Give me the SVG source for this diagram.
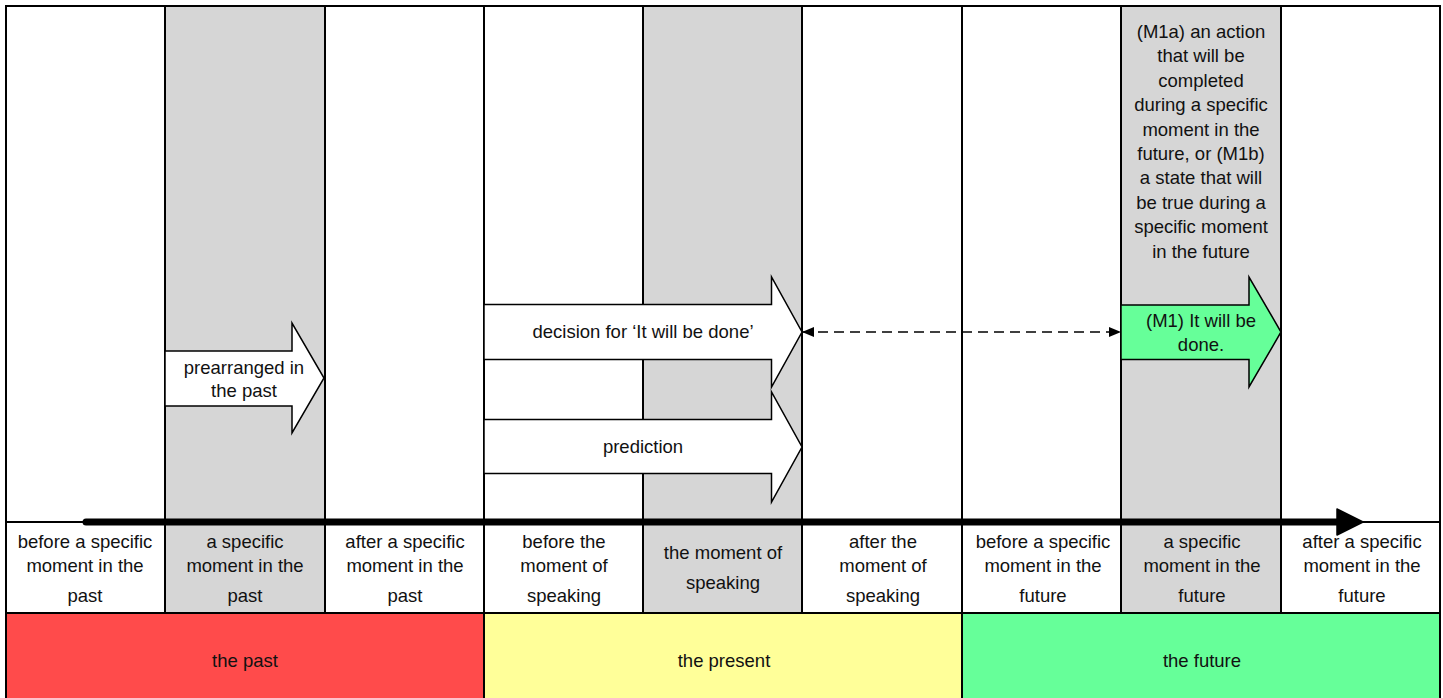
<svg xmlns="http://www.w3.org/2000/svg" width="1443" height="698" viewBox="0 0 1443 698">
  <style>
    .cell { stroke: none; }
    .white { fill: #ffffff; }
    .grey { fill: #d6d6d6; }
    .grid { stroke: #000000; stroke-width: 2; fill: none; }
    .block { stroke: #000000; stroke-width: 1.5; stroke-linejoin: miter; }
    .txt { font-family: "Liberation Sans", Arial, sans-serif; font-size: 18.5px; fill: #111111; text-anchor: middle; }
    .dash { stroke: #000000; stroke-width: 1.5; stroke-dasharray: 10 6; fill: none; }
  </style>
  <defs>
    <marker id="tri" viewBox="0 0 12 10" refX="12" refY="5" markerWidth="12" markerHeight="10" markerUnits="userSpaceOnUse" orient="auto-start-reverse">
      <path d="M0,0 L12,5 L0,10 Z" fill="#000000"/>
    </marker>
  </defs>

  <!-- background columns: upper area and sub-period label row -->
  <g id="columns">
    <rect class="cell white" x="6" y="6" width="1434" height="607"/>
    <rect class="cell grey" x="165" y="6" width="160" height="607"/>
    <rect class="cell grey" x="643" y="6" width="159" height="607"/>
    <rect class="cell grey" x="1121" y="6" width="160" height="607"/>
  </g>

  <!-- period bands -->
  <g id="periods">
    <rect x="6" y="613" width="478" height="85" fill="#ff4b4b"/>
    <rect x="484" y="613" width="478" height="85" fill="#ffff99"/>
    <rect x="962" y="613" width="478" height="85" fill="#66ff99"/>
  </g>

  <!-- grid lines -->
  <g id="grid" class="grid">
    <rect x="6" y="6" width="1434" height="700"/>
    <path d="M165,6 V613 M325,6 V613 M484,6 V698 M643,6 V613 M802,6 V613 M962,6 V698 M1121,6 V613 M1281,6 V613"/>
    <path d="M6,522 H1440 M6,613 H1440"/>
  </g>

  <!-- time axis -->
  <g id="timeline">
    <line x1="86" y1="522" x2="1340" y2="522" stroke="#000000" stroke-width="7" stroke-linecap="round"/>
    <path d="M1337,509 L1363,522 L1337,535 Z" fill="#000000" stroke="#000000" stroke-width="1.5" stroke-linejoin="round"/>
  </g>

  <!-- block arrows -->
  <g id="prearranged">
    <path class="block" fill="#ffffff" d="M165,351 H292 V323 L324,378 L292,433 V406 H165 Z"/>
    <text class="txt" x="244" y="374">prearranged in</text>
    <text class="txt" x="244" y="397">the past</text>
  </g>
  <g id="decision">
    <path class="block" fill="#ffffff" d="M484,304.5 H771.5 V277 L802,332 L771.5,387 V359.5 H484 Z"/>
    <text class="txt" x="643" y="338">decision for ‘It will be done’</text>
  </g>
  <g id="prediction">
    <path class="block" fill="#ffffff" d="M484,419.5 H771.5 V392 L802,447 L771.5,502 V473.5 H484 Z"/>
    <text class="txt" x="643" y="453">prediction</text>
  </g>
  <g id="m1">
    <path class="block" fill="#66ff99" d="M1121,305 H1249 V277 L1281,332 L1249,387 V359.5 H1121 Z"/>
    <text class="txt" x="1201" y="327">(M1) It will be</text>
    <text class="txt" x="1201" y="351">done.</text>
  </g>

  <!-- description of M1 -->
  <g id="m1-note">
    <text class="txt" x="1201" y="38">(M1a) an action</text>
    <text class="txt" x="1201" y="62">that will be</text>
    <text class="txt" x="1201" y="87">completed</text>
    <text class="txt" x="1201" y="111">during a specific</text>
    <text class="txt" x="1201" y="136">moment  in the</text>
    <text class="txt" x="1201" y="160">future, or (M1b)</text>
    <text class="txt" x="1201" y="184">a state that will</text>
    <text class="txt" x="1201" y="209">be true during a</text>
    <text class="txt" x="1201" y="233">specific moment</text>
    <text class="txt" x="1201" y="258">in the future</text>
  </g>

  <!-- connectors -->
  <g id="connectors">
    <line class="dash" x1="802" y1="332" x2="1121" y2="332" marker-start="url(#tri)" marker-end="url(#tri)"/>
  </g>

  <!-- sub-period labels -->
  <g id="labels">
    <g id="lbl-past-before">
      <text class="txt" x="85" y="548">before a specific</text>
      <text class="txt" x="85" y="572">moment in the</text>
      <text class="txt" x="85" y="602">past</text>
    </g>
    <g id="lbl-past-at">
      <text class="txt" x="245" y="548">a specific</text>
      <text class="txt" x="245" y="572">moment in the</text>
      <text class="txt" x="245" y="602">past</text>
    </g>
    <g id="lbl-past-after">
      <text class="txt" x="405" y="548">after a specific</text>
      <text class="txt" x="405" y="572">moment in the</text>
      <text class="txt" x="405" y="602">past</text>
    </g>
    <g id="lbl-present-before">
      <text class="txt" x="564" y="548">before the</text>
      <text class="txt" x="564" y="572">moment of</text>
      <text class="txt" x="564" y="602">speaking</text>
    </g>
    <g id="lbl-present-at">
      <text class="txt" x="723" y="559">the moment of</text>
      <text class="txt" x="723" y="589">speaking</text>
    </g>
    <g id="lbl-present-after">
      <text class="txt" x="883" y="548">after the</text>
      <text class="txt" x="883" y="572">moment of</text>
      <text class="txt" x="883" y="602">speaking</text>
    </g>
    <g id="lbl-future-before">
      <text class="txt" x="1043" y="548">before a specific</text>
      <text class="txt" x="1043" y="572">moment in the</text>
      <text class="txt" x="1043" y="602">future</text>
    </g>
    <g id="lbl-future-at">
      <text class="txt" x="1202" y="548">a specific</text>
      <text class="txt" x="1202" y="572">moment in the</text>
      <text class="txt" x="1202" y="602">future</text>
    </g>
    <g id="lbl-future-after">
      <text class="txt" x="1362" y="548">after a specific</text>
      <text class="txt" x="1362" y="572">moment in the</text>
      <text class="txt" x="1362" y="602">future</text>
    </g>
  </g>

  <!-- period captions -->
  <g id="period-labels">
    <text class="txt" x="245" y="667">the past</text>
    <text class="txt" x="724" y="667">the present</text>
    <text class="txt" x="1202" y="667">the future</text>
  </g>
</svg>
